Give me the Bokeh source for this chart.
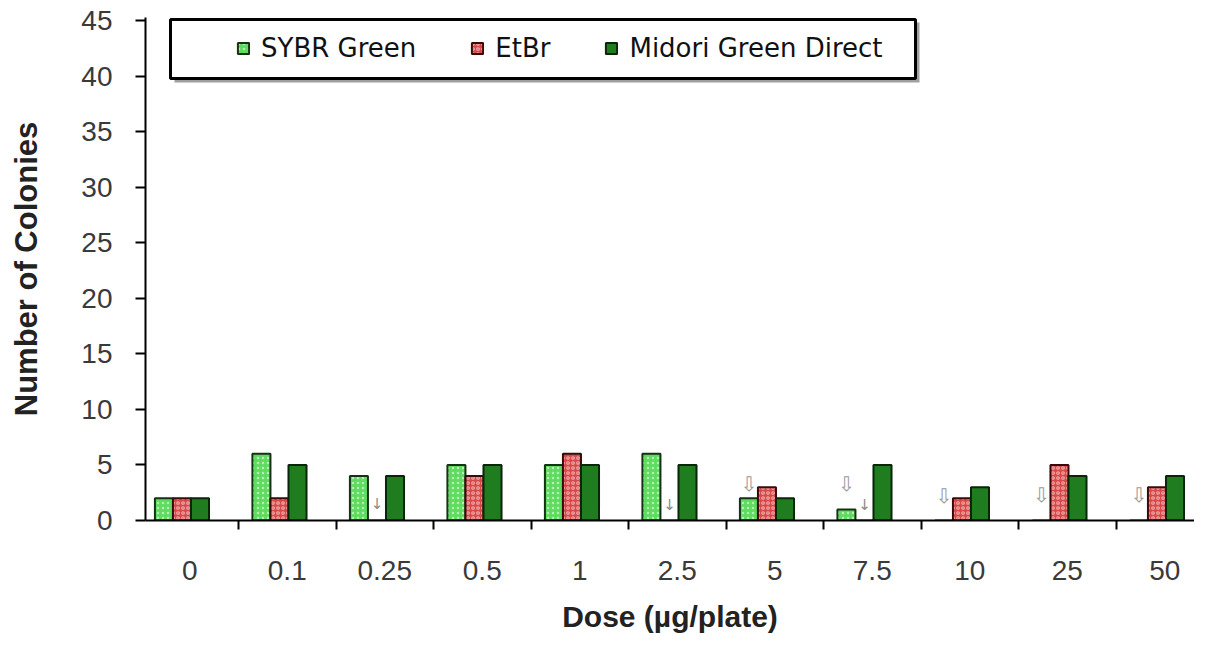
from bokeh.plotting import figure
from bokeh.models import FixedTicker, BoxAnnotation, Legend, LegendItem, ColumnDataSource, Range1d
from bokeh.core.properties import value
from bokeh.embed import file_html
from bokeh.resources import INLINE

# ---- data ----
doses = ["0", "0.1", "0.25", "0.5", "1", "2.5", "5", "7.5", "10", "25", "50"]
sybr = [2, 6, 4, 5, 5, 6, 2, 1, 0, 0, 0]
etbr = [2, 2, 0, 4, 6, 0, 3, 0, 2, 5, 3]
midori = [2, 5, 4, 5, 5, 5, 2, 5, 3, 4, 4]
y_ticks = [0, 5, 10, 15, 20, 25, 30, 35, 40, 45]
series_names = ["SYBR Green", "EtBr", "Midori Green Direct"]
# arrow markers (below detection) and their heights
sybr_marked = ["5", "7.5", "10", "25", "50"]
sybr_mark_y = [3.3, 3.3, 2.2, 2.3, 2.3]
etbr_marked = ["0.25", "2.5", "7.5"]
etbr_mark_y = [1.5, 1.4, 1.4]

# ---- layout / style ----
BAR_W = 0.185
OFFS = [-0.265, -0.08, 0.105]
FILLS = ["#5fdc5f", "#d94848", "#1f7d1f"]
LINES = ["#143214", "#3a0a0a", "#0a260a"]
HATCH = ["dot", "ring", None]

idx = list(range(len(doses)))
pos = {d: i for i, d in enumerate(doses)}

p = figure(width=1194, height=635, output_backend="svg", toolbar_location=None,
           x_range=Range1d(-0.454, 10.305), y_range=Range1d(0, 45.27),
           min_border_left=145, min_border_right=0, min_border_top=17, min_border_bottom=114)
p.outline_line_color = None
p.xgrid.grid_line_color = None
p.ygrid.grid_line_color = None
p.background_fill_color = "white"

renderers = []
for vals, off, fc, lc, hp in zip([sybr, etbr, midori], OFFS, FILLS, LINES, HATCH):
    src = ColumnDataSource(dict(x=[i + off for i in idx], top=vals))
    kw = dict(fill_color=fc, line_color=lc, line_width=2)
    if hp:
        kw.update(hatch_pattern=hp, hatch_color="white", hatch_alpha=0.55, hatch_scale=5, hatch_weight=1.2)
    r = p.vbar(x="x", top="top", bottom=0, width=BAR_W, source=src, **kw)
    renderers.append(r)

# arrows
p.text(x=[pos[d] + OFFS[0] for d in sybr_marked], y=sybr_mark_y, text=["⇩"] * len(sybr_marked),
       text_align="center", text_baseline="middle", text_font_size="20px",
       text_color="#9a9a9a", text_font=value("DejaVu Sans"))
p.text(x=[pos[d] + OFFS[1] for d in etbr_marked], y=etbr_mark_y, text=["↓"] * len(etbr_marked),
       text_align="center", text_baseline="middle", text_font_size="15px",
       text_color="#8a8a8a", text_font=value("DejaVu Sans"))

# axes
xa = p.xaxis[0]
xa.ticker = FixedTicker(ticks=idx, minor_ticks=[i + 0.5 for i in idx[:-1]])
xa.major_label_overrides = {i: d for i, d in enumerate(doses)}
xa.major_tick_line_color = None
xa.major_tick_out = 0
xa.minor_tick_out = 9
xa.minor_tick_in = 0
xa.minor_tick_line_width = 2
xa.minor_tick_line_color = "black"
xa.axis_line_width = 2
xa.axis_line_color = "black"
xa.major_label_text_font = "Liberation Sans"
xa.major_label_text_font_size = "28px"
xa.major_label_text_color = "#3a3a3a"
xa.major_label_standoff = 31
xa.axis_label = "Dose (µg/plate)"
xa.axis_label_text_font = "Liberation Sans"
xa.axis_label_text_font_style = "bold"
xa.axis_label_text_font_size = "30px"
xa.axis_label_text_color = "#222222"
xa.axis_label_standoff = 17

ya = p.yaxis[0]
ya.ticker = FixedTicker(ticks=y_ticks)
ya.major_tick_out = 10
ya.major_tick_in = 0
ya.major_tick_line_width = 2
ya.minor_tick_line_color = None
ya.axis_line_width = 2
ya.axis_line_color = "black"
ya.major_label_text_font = "Liberation Sans"
ya.major_label_text_font_size = "28px"
ya.major_label_text_color = "#3a3a3a"
ya.major_label_standoff = 23
ya.axis_label = "Number of Colonies"
ya.axis_label_text_font = "Liberation Sans"
ya.axis_label_text_font_style = "bold"
ya.axis_label_text_font_size = "31px"
ya.axis_label_text_color = "#222222"
ya.axis_label_standoff = 34

# legend frame with shadow
shadow = BoxAnnotation(left=174, right=919, top=22, bottom=82,
                       left_units="canvas", right_units="canvas", top_units="canvas", bottom_units="canvas",
                       fill_color="#a0a0a0", fill_alpha=1, line_color=None)
box = BoxAnnotation(left=170, right=915, top=19, bottom=78,
                    left_units="canvas", right_units="canvas", top_units="canvas", bottom_units="canvas",
                    fill_color="white", fill_alpha=1, line_color="black", line_alpha=1, line_width=3)
p.add_layout(shadow)
p.add_layout(box)

legend = Legend(items=[LegendItem(label=n, renderers=[r]) for n, r in zip(series_names, renderers)],
                orientation="horizontal", location=(91, 457),
                background_fill_alpha=0, border_line_alpha=0,
                label_text_font="DejaVu Sans", label_text_font_size="26px", label_text_color="#111111",
                glyph_width=14, glyph_height=14, label_standoff=11, spacing=54, padding=0, margin=0)
p.add_layout(legend)

open("out.html", "w").write(file_html(p, INLINE))
